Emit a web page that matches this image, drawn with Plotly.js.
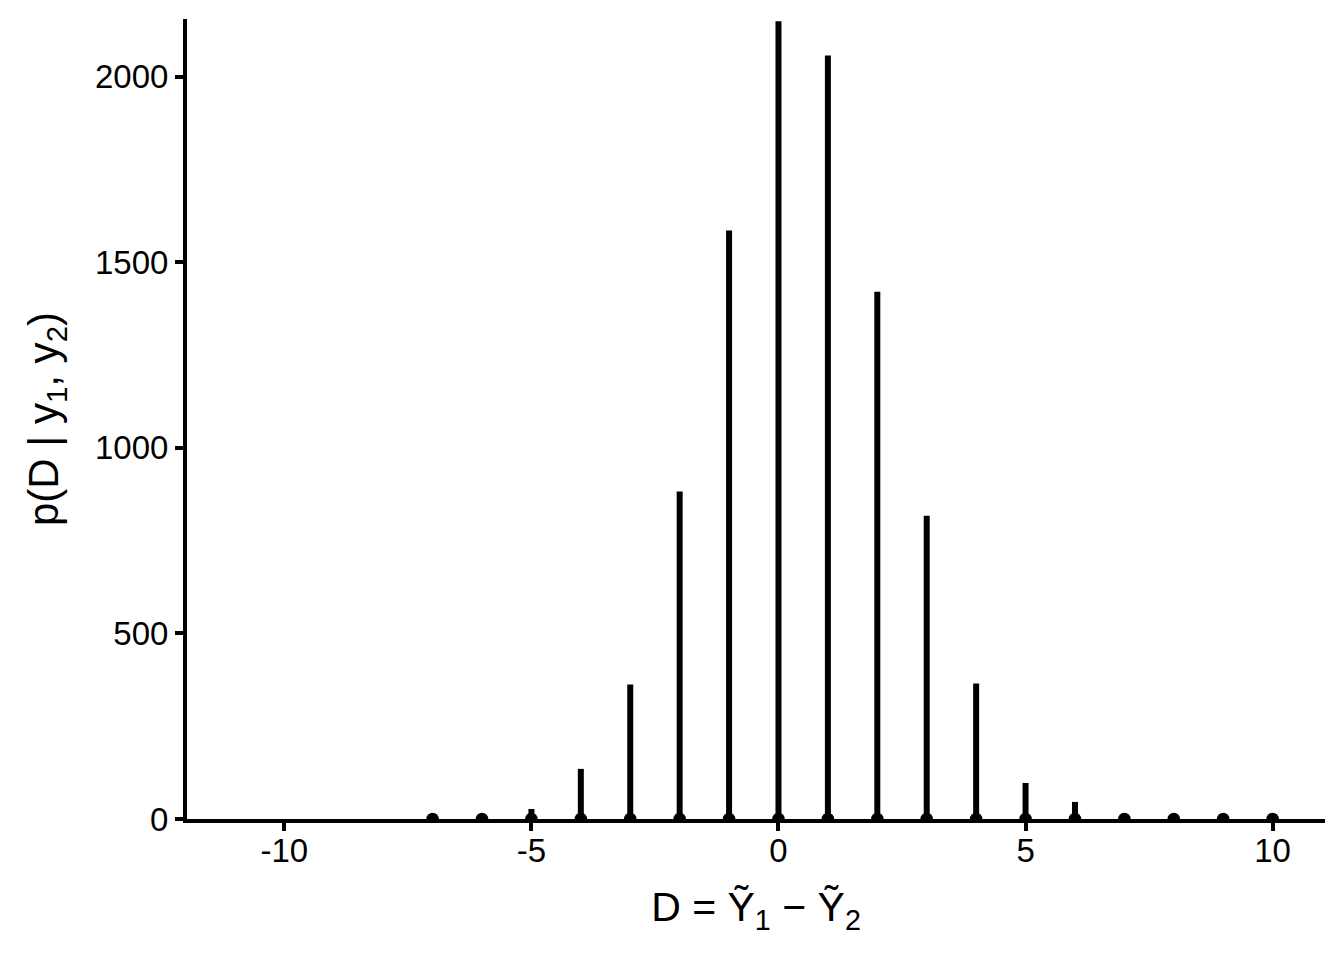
<!DOCTYPE html>
<html>
<head>
<meta charset="utf-8">
<script src="https://cdn.plot.ly/plotly-3.0.1.min.js"></script>
<style>html,body{margin:0;padding:0;background:#fff;}#chart{width:1344px;height:960px;}</style>
</head>
<body>
<div id="chart"></div>
<script>
// Difference D values and their counts
const dValues = [-7, -6, -5, -4, -3, -2, -1, 0, 1, 2, 3, 4, 5, 6, 7, 8, 9, 10];
const counts  = [1, 5, 27, 135, 362, 882, 1585, 2149, 2057, 1420, 817, 365, 97, 46, 14, 4, 1, 1];
const xTicks = [-10, -5, 0, 5, 10];
const yTicks = [0, 500, 1000, 1500, 2000];

const segX = [], segY = [];
dValues.forEach((d, i) => { segX.push(d, d, null); segY.push(0, counts[i], null); });

const font = 'Liberation Sans, Arial, Helvetica, sans-serif';

const traces = [
  {
    type: 'scatter', mode: 'lines', x: segX, y: segY,
    line: {color: '#000', width: 6}, hoverinfo: 'skip', showlegend: false
  },
  {
    type: 'scatter', mode: 'markers', x: dValues, y: dValues.map(() => 0),
    marker: {color: '#000', size: 12.5}, cliponaxis: true, showlegend: false
  }
];

const layout = {
  width: 1344, height: 960,
  margin: {l: 187, r: 19, t: 19, b: 140.5},
  paper_bgcolor: '#fff', plot_bgcolor: '#fff',
  font: {family: font, color: '#000'},
  showlegend: false,
  xaxis: {
    range: [-11.97, 11.06], tickvals: xTicks, ticktext: xTicks.map(String),
    showgrid: false, zeroline: false, showline: true, linecolor: '#000', linewidth: 4,
    ticks: 'outside', ticklen: 8, tickwidth: 4, tickcolor: '#000',
    ticklabelstandoff: -9,
    tickfont: {size: 33, color: '#000', family: font},
    title: {text: 'D = Ỹ<sub>1</sub> − Ỹ<sub>2</sub>', font: {size: 41, color: '#000', family: font}, standoff: 26}
  },
  yaxis: {
    range: [0, 2155], tickvals: yTicks, ticktext: yTicks.map(String),
    showgrid: false, zeroline: false, showline: true, linecolor: '#000', linewidth: 4,
    ticks: 'outside', ticklen: 8, tickwidth: 4, tickcolor: '#000',
    tickfont: {size: 33, color: '#000', family: font},
    title: {text: 'p(D | y<sub>1</sub>, y<sub>2</sub>)', font: {size: 42, color: '#000', family: font}, standoff: 24}
  }
};

Plotly.newPlot('chart', traces, layout, {staticPlot: true, displayModeBar: false});
</script>
</body>
</html>
